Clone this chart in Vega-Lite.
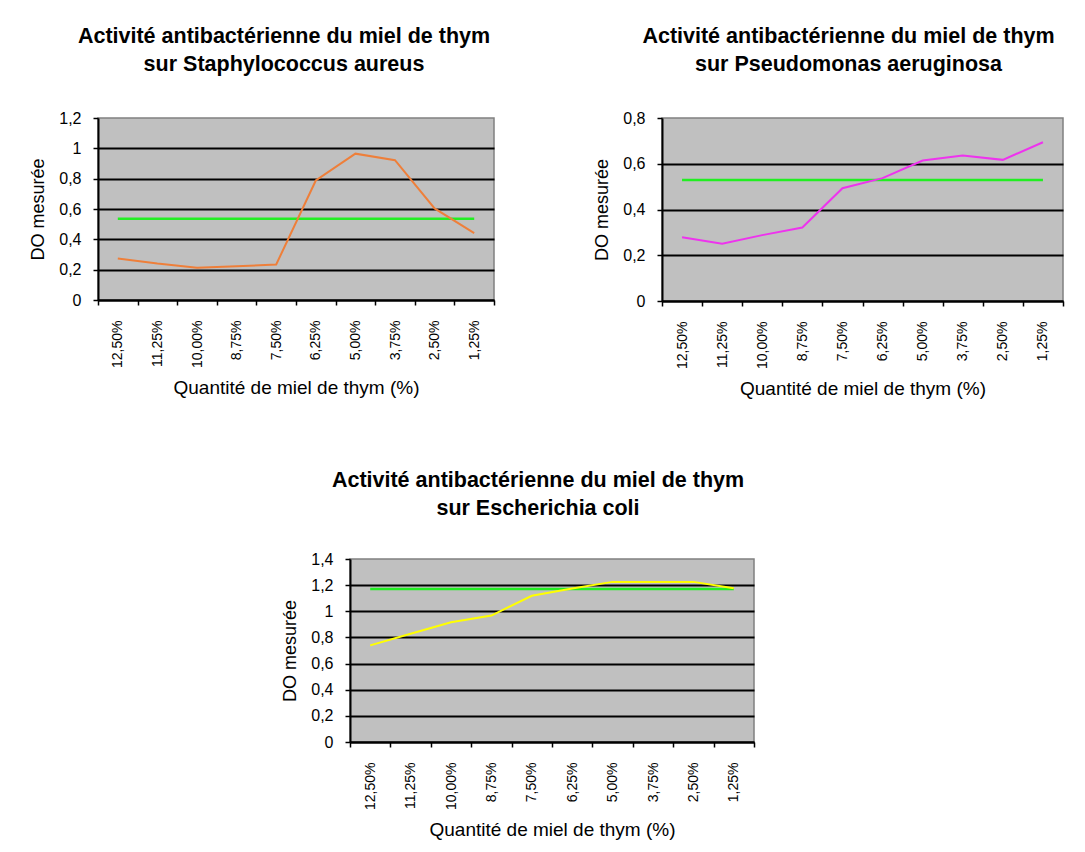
{
  "$schema": "https://vega.github.io/schema/vega-lite/v6.json",
  "padding": {"left": 29, "top": 24, "right": 0, "bottom": 0},
  "background": "white",
  "datasets": {
    "staph": [
      {"q": "12,50%", "DO": 0.274, "temoin": 0.535},
      {"q": "11,25%", "DO": 0.240, "temoin": 0.535},
      {"q": "10,00%", "DO": 0.213, "temoin": 0.535},
      {"q": "8,75%", "DO": 0.222, "temoin": 0.535},
      {"q": "7,50%", "DO": 0.234, "temoin": 0.535},
      {"q": "6,25%", "DO": 0.788, "temoin": 0.535},
      {"q": "5,00%", "DO": 0.965, "temoin": 0.535},
      {"q": "3,75%", "DO": 0.922, "temoin": 0.535},
      {"q": "2,50%", "DO": 0.604, "temoin": 0.535},
      {"q": "1,25%", "DO": 0.441, "temoin": 0.535}
    ],
    "pseudo": [
      {"q": "12,50%", "DO": 0.279, "temoin": 0.529},
      {"q": "11,25%", "DO": 0.250, "temoin": 0.529},
      {"q": "10,00%", "DO": 0.288, "temoin": 0.529},
      {"q": "8,75%", "DO": 0.321, "temoin": 0.529},
      {"q": "7,50%", "DO": 0.493, "temoin": 0.529},
      {"q": "6,25%", "DO": 0.537, "temoin": 0.529},
      {"q": "5,00%", "DO": 0.614, "temoin": 0.529},
      {"q": "3,75%", "DO": 0.636, "temoin": 0.529},
      {"q": "2,50%", "DO": 0.617, "temoin": 0.529},
      {"q": "1,25%", "DO": 0.694, "temoin": 0.529}
    ],
    "ecoli": [
      {"q": "12,50%", "DO": 0.739, "temoin": 1.170},
      {"q": "11,25%", "DO": 0.828, "temoin": 1.170},
      {"q": "10,00%", "DO": 0.916, "temoin": 1.170},
      {"q": "8,75%", "DO": 0.967, "temoin": 1.170},
      {"q": "7,50%", "DO": 1.119, "temoin": 1.170},
      {"q": "6,25%", "DO": 1.175, "temoin": 1.170},
      {"q": "5,00%", "DO": 1.225, "temoin": 1.170},
      {"q": "3,75%", "DO": 1.225, "temoin": 1.170},
      {"q": "2,50%", "DO": 1.225, "temoin": 1.170},
      {"q": "1,25%", "DO": 1.177, "temoin": 1.170}
    ]
  },
  "vconcat": [
    {
      "hconcat": [
        {
          "width": 396, "height": 182,
          "data": {"name": "staph"},
          "title": {"text": ["Activité antibactérienne du miel de thym", "sur Staphylococcus aureus"], "dx": -12},
          "encoding": {
            "x": {"field": "q", "type": "ordinal", "sort": null, "bandPosition": 0.5, "scale": {"type": "band", "paddingInner": 0, "paddingOuter": 0}, "title": "Quantité de miel de thym (%)"}
          },
          "layer": [
            {
              "mark": {"type": "line", "color": "#22EE22", "strokeWidth": 2.5},
              "encoding": {"y": {"field": "temoin", "type": "quantitative", "title": "DO mesurée", "scale": {"domain": [0, 1.2], "nice": false}, "axis": {"values": [0, 0.2, 0.4, 0.6, 0.8, 1, 1.2], "labelExpr": "replace(format(datum.value, '~g'), '.', ',')", "gridColor": {"condition": {"test": "datum.value > 1.19", "value": "transparent"}, "value": "black"}}}}
            },
            {
              "mark": {"type": "line", "color": "#EE7F3A", "strokeWidth": 2},
              "encoding": {"y": {"field": "DO", "type": "quantitative", "title": "DO mesurée"}}
            }
          ]
        },
        {
          "width": 401, "height": 183,
          "data": {"name": "pseudo"},
          "title": {"text": ["Activité antibactérienne du miel de thym", "sur Pseudomonas aeruginosa"], "dx": -14},
          "encoding": {
            "x": {"field": "q", "type": "ordinal", "sort": null, "bandPosition": 0.5, "scale": {"type": "band", "paddingInner": 0, "paddingOuter": 0}, "title": "Quantité de miel de thym (%)"}
          },
          "layer": [
            {
              "mark": {"type": "line", "color": "#22EE22", "strokeWidth": 2.5},
              "encoding": {"y": {"field": "temoin", "type": "quantitative", "title": "DO mesurée", "scale": {"domain": [0, 0.8], "nice": false}, "axis": {"values": [0, 0.2, 0.4, 0.6, 0.8], "labelExpr": "replace(format(datum.value, '~g'), '.', ',')", "gridColor": {"condition": {"test": "datum.value > 0.79", "value": "transparent"}, "value": "black"}}}}
            },
            {
              "mark": {"type": "line", "color": "#EE33EE", "strokeWidth": 2},
              "encoding": {"y": {"field": "DO", "type": "quantitative", "title": "DO mesurée"}}
            }
          ]
        }
      ],
      "spacing": 97
    },
    {
      "hconcat": [
        {
          "width": 183, "height": 10,
          "data": {"values": []},
          "mark": "point",
          "view": {"stroke": null, "fill": null}
        },
        {
          "width": 404, "height": 183,
          "data": {"name": "ecoli"},
          "title": {"text": ["Activité antibactérienne du miel de thym", "sur Escherichia coli"], "dx": -14, "offset": 32},
          "encoding": {
            "x": {"field": "q", "type": "ordinal", "sort": null, "bandPosition": 0.5, "scale": {"type": "band", "paddingInner": 0, "paddingOuter": 0}, "title": "Quantité de miel de thym (%)"}
          },
          "layer": [
            {
              "mark": {"type": "line", "color": "#22EE22", "strokeWidth": 2.5},
              "encoding": {"y": {"field": "temoin", "type": "quantitative", "title": "DO mesurée", "scale": {"domain": [0, 1.4], "nice": false}, "axis": {"values": [0, 0.2, 0.4, 0.6, 0.8, 1, 1.2, 1.4], "labelExpr": "replace(format(datum.value, '~g'), '.', ',')", "gridColor": {"condition": {"test": "datum.value > 1.39", "value": "transparent"}, "value": "black"}}}}
            },
            {
              "mark": {"type": "line", "color": "#FFFF00", "strokeWidth": 2},
              "encoding": {"y": {"field": "DO", "type": "quantitative", "title": "DO mesurée"}}
            }
          ]
        }
      ],
      "spacing": 0
    }
  ],
  "spacing": 68,
  "config": {
    "font": "Liberation Sans",
    "view": {"fill": "#C0C0C0", "stroke": "#808080", "strokeWidth": 1.5},
    "title": {"fontSize": 21.5, "fontWeight": "bold", "lineHeight": 28, "anchor": "middle", "color": "black", "offset": 35},
    "axis": {"labelColor": "black", "titleColor": "black", "domainColor": "black", "tickColor": "black", "titleFontWeight": "normal", "tickSize": 5, "domainWidth": 2, "tickWidth": 1.5},
    "axisX": {"labelFontSize": 14, "labelAngle": -90, "labelPadding": 15, "titleFontSize": 19, "titlePadding": 11, "tickBand": "extent", "grid": false},
    "axisY": {"labelFontSize": 16, "titleFontSize": 18, "grid": true, "gridColor": "black", "gridWidth": 2, "labelPadding": 12, "titlePadding": 11, "tickCount": 10, "labelOverlap": false}
  }
}
